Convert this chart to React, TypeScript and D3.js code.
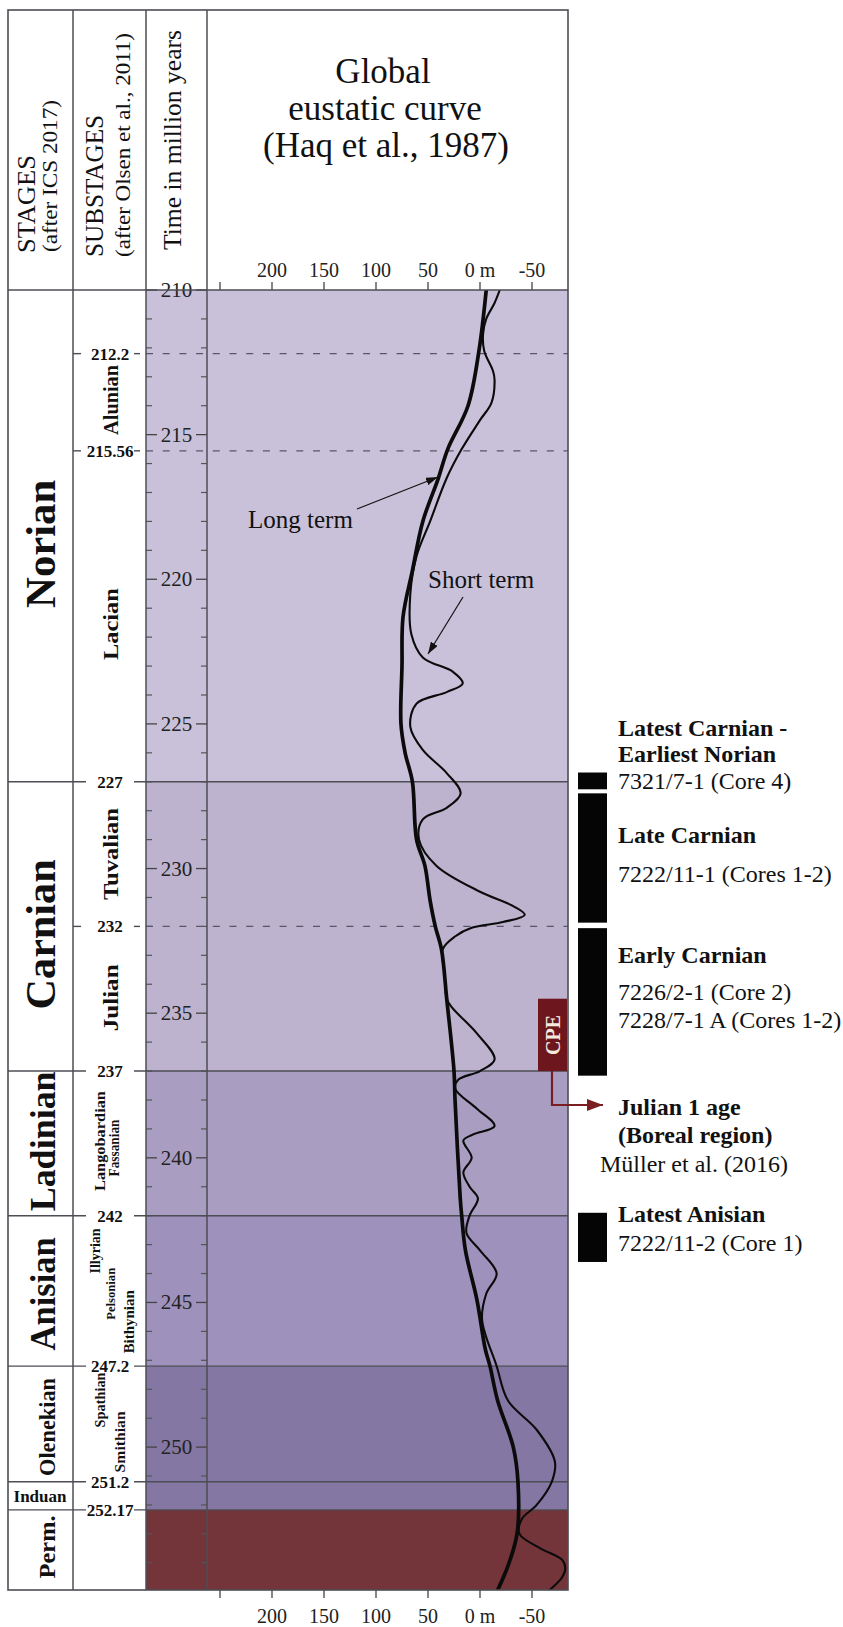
import React from 'react';
import * as d3 from 'd3';

// ---------- data ----------
const stageNames = ['Norian', 'Carnian', 'Ladinian', 'Anisian', 'Olenekian', 'Induan', 'Perm.'];
const stageTops = [210, 227, 237, 242, 247.2, 251.2, 252.17];
const stageBases = [227, 237, 242, 247.2, 251.2, 252.17, 254.94];

const boundaryAges = [212.2, 215.56, 227, 232, 237, 242, 247.2, 251.2, 252.17];
const boundaryLabels = ['212.2', '215.56', '227', '232', '237', '242', '247.2', '251.2', '252.17'];
const boundaryIsStage = [false, false, true, false, true, true, true, true, true];

const substageNames = ['Alunian', 'Lacian', 'Tuvalian', 'Julian', 'Langobardian', 'Fassanian', 'Illyrian', 'Pelsonian', 'Bithynian', 'Spathian', 'Smithian'];
const substageAges = [213.8, 221.55, 229.5, 234.47, 239.42, 239.66, 243.22, 244.7, 245.67, 248.37, 249.82];

// Haq et al. (1987) long-term curve: age (Ma) and sea level (m)
const longTermAge = [210, 212.1, 214, 215.5, 216.5, 218, 219.7, 221.3, 223, 225, 226, 227, 229, 229.9, 231.1, 232, 232.8, 234.5, 237, 238, 241.4, 242, 243.2, 244.9, 246.6, 247.2, 248.4, 250, 251.2, 253, 254.1, 254.94];
const longTermLevel = [-6, 1, 11.5, 31, 40, 55, 65, 74, 75, 76, 72, 65, 61, 53, 48, 43, 37, 32, 25, 24, 19, 17.6, 14, 3, -5, -9.6, -17, -32, -36.5, -35.6, -27, -17];

// Short-term curve
const shortTermAge = [210, 210.45, 211, 211.5, 212.1, 212.8, 213.1, 213.9, 214.5, 215.5, 216.5, 218, 219.2, 220.5, 221.9, 222.7, 223.2, 223.6, 223.9, 224.3, 225.1, 225.9, 226.7, 227.4, 227.9, 228.3, 229.0, 229.9, 230.8, 231.3, 231.6, 231.85, 232.05, 232.35, 232.8, 233.6, 234.5, 234.8, 235.7, 236.6, 237.0, 237.3, 237.6, 238.3, 238.9, 239.2, 239.4, 240.0, 240.5, 241.0, 241.4, 242.0, 242.6, 243.2, 244.0, 244.7, 245.6, 247.2, 248.4, 249.4, 250.5, 251.2, 252.0, 252.5, 253.0, 253.5, 253.9, 254.2, 254.5, 254.94];
const shortTermLevel = [-19, -14, -6, -3, -4, -12.5, -14, -11, 0, 17.6, 32, 48, 61, 67, 66, 55, 26, 16.6, 32, 61, 67, 55, 32, 18.6, 32, 55, 58.6, 42, 0, -32, -43, -22, 8, 24, 36, 34, 32, 27, 3, -14, 0, 21, 24, 3, -14, 7, 16, 8, 16, 10, 2, 10, 13, 0, -16, -6, -2, -16, -27, -54.5, -72, -69, -54.5, -40, -38, -58, -79, -82, -79, -67];

const levelTicks = [250, 200, 150, 100, 50, 0, -50];
const levelTickLabels = ['', '200', '150', '100', '50', '0 m', '-50'];

// cored intervals (Ma)
const coreTop = [226.68, 227.4, 232.06, 241.9];
const coreBase = [227.26, 231.87, 237.16, 243.6];

const cpeTop = 234.5;
const cpeBase = 237;

const noteLines = ['Latest Carnian -', 'Earliest Norian', '7321/7-1 (Core 4)', 'Late Carnian', '7222/11-1 (Cores 1-2)', 'Early Carnian', '7226/2-1 (Core 2)', '7228/7-1 A (Cores 1-2)', 'Julian 1 age', '(Boreal region)', 'Müller et al. (2016)', 'Latest Anisian', '7222/11-2 (Core 1)'];

// ---------- styling / layout ----------
const SERIF = '"Liberation Serif", "Times New Roman", Times, serif';
const W = 843;
const H = 1627;
const LEFT = 8;
const TOP = 10;
const COL1 = 73;
const COL2 = 146;
const COL3 = 207;
const RIGHT = 568;
const PLOT_TOP = 290;
const PLOT_BOTTOM = 1590;

const bandColors = ['#c9c1d9', '#bdb3cf', '#a99ec2', '#9e91bb', '#8577a4', '#8577a4', '#74353a'];
const stageFont: Record<string, { size: number; len?: number; dy: number; horizontal?: boolean }> = {
  Norian: { size: 43, len: 128, dy: 8 },
  Carnian: { size: 43, len: 150, dy: 8 },
  Ladinian: { size: 36, len: 140, dy: -2 },
  Anisian: { size: 36, len: 113, dy: 3 },
  Olenekian: { size: 24, len: 98, dy: 3 },
  Induan: { size: 17, dy: 0, horizontal: true },
  'Perm.': { size: 24, len: 63, dy: -3 },
};
const substageFont: Record<string, { x: number; size: number; len: number }> = {
  Alunian: { x: 118, size: 20, len: 70 },
  Lacian: { x: 118, size: 22, len: 72 },
  Tuvalian: { x: 118, size: 22, len: 92 },
  Julian: { x: 118, size: 22, len: 67 },
  Langobardian: { x: 105, size: 15, len: 100 },
  Fassanian: { x: 119, size: 14, len: 57 },
  Illyrian: { x: 100, size: 14, len: 45 },
  Pelsonian: { x: 115, size: 13, len: 52 },
  Bithynian: { x: 134, size: 14, len: 63 },
  Spathian: { x: 105, size: 14, len: 55 },
  Smithian: { x: 125, size: 15, len: 61 },
};
const noteBold = [true, true, false, true, false, true, false, false, true, true, false, true, false];
const noteY = [736, 762, 789, 843, 882, 963, 1000, 1028, 1115, 1143, 1172, 1222, 1251];
const noteX = [618, 618, 618, 618, 618, 618, 618, 618, 618, 618, 600, 618, 618];

const yScale = d3.scaleLinear().domain([210, 254.94]).range([PLOT_TOP, PLOT_BOTTOM]);
const xScale = d3.scaleLinear().domain([250, -50]).range([220, 532]);

const curve = d3
  .line<[number, number]>()
  .x((d) => xScale(d[1]))
  .y((d) => yScale(d[0]))
  .curve(d3.curveCatmullRom.alpha(0.5));

const longPath = curve(longTermAge.map((a, i) => [a, longTermLevel[i]] as [number, number])) || '';
const shortPath = curve(shortTermAge.map((a, i) => [a, shortTermLevel[i]] as [number, number])) || '';

const FRAME = '#4d4d55';

function RotText(props: { x: number; y: number; size: number; bold?: boolean; len?: number; anchor?: string; fill?: string; children: React.ReactNode }) {
  const { x, y, size, bold, len, anchor = 'middle', fill = '#111', children } = props;
  return (
    <text
      transform={`translate(${x},${y}) rotate(-90)`}
      textAnchor={anchor}
      fontFamily={SERIF}
      fontSize={size}
      fontWeight={bold ? 'bold' : 'normal'}
      fill={fill}
      textLength={len}
      lengthAdjust={len ? 'spacingAndGlyphs' : undefined}
    >
      {children}
    </text>
  );
}

export default function App() {
  const timeTicks = d3.range(210, 255);

  return (
    <div style={{ position: 'absolute', left: 0, top: 0 }}>
      <svg width={W} height={H} style={{ display: 'block', background: '#fff' }}>
        <defs>
          <clipPath id="plotClip">
            <rect x={COL3} y={PLOT_TOP} width={RIGHT - COL3} height={PLOT_BOTTOM - PLOT_TOP} />
          </clipPath>
          <marker id="arrowBlack" viewBox="0 0 12 8" refX={12} refY={4} markerWidth={12} markerHeight={8} markerUnits="userSpaceOnUse" orient="auto">
            <path d="M0,0 L12,4 L0,8 z" fill="#111" />
          </marker>
          <marker id="arrowRed" viewBox="0 0 16 12" refX={16} refY={6} markerWidth={16} markerHeight={12} markerUnits="userSpaceOnUse" orient="auto">
            <path d="M0,0 L16,6 L0,12 z" fill="#7b1e24" />
          </marker>
        </defs>

        {/* stage colour bands in the time column and the curve panel */}
        {stageNames.map((s, i) => (
          <rect
            key={s}
            x={COL2}
            y={yScale(stageTops[i])}
            width={RIGHT - COL2}
            height={yScale(stageBases[i]) - yScale(stageTops[i])}
            fill={bandColors[i]}
          />
        ))}

        {/* header */}
        <RotText x={35} y={253} size={26} anchor="start" len={98}>STAGES</RotText>
        <RotText x={57} y={252} size={21} anchor="start" len={152}>(after ICS 2017)</RotText>
        <RotText x={103} y={257} size={25} anchor="start" len={142}>SUBSTAGES</RotText>
        <RotText x={130} y={257} size={21} anchor="start" len={224}>(after Olsen et al., 2011)</RotText>
        <RotText x={181} y={250} size={25} anchor="start" len={220}>Time in million years</RotText>

        <g fontFamily={SERIF} fontSize={35} textAnchor="middle" fill="#111">
          <text x={383} y={83}>Global</text>
          <text x={385} y={120}>eustatic curve</text>
          <text x={386} y={157}>(Haq et al., 1987)</text>
        </g>

        {/* level axis, top and bottom */}
        {levelTicks.map((v, i) => (
          <g key={v} fontFamily={SERIF} fontSize={20} textAnchor="middle" fill="#222">
            <line x1={xScale(v)} x2={xScale(v)} y1={PLOT_TOP - 8} y2={PLOT_TOP} stroke="#444" strokeWidth={1.3} />
            <line x1={xScale(v)} x2={xScale(v)} y1={PLOT_BOTTOM} y2={PLOT_BOTTOM + 8} stroke="#444" strokeWidth={1.3} />
            <text x={xScale(v)} y={277}>{levelTickLabels[i]}</text>
            <text x={xScale(v)} y={1623}>{levelTickLabels[i]}</text>
          </g>
        ))}

        {/* time ticks */}
        {timeTicks.map((t) => {
          const y = yScale(t);
          const major = t % 5 === 0;
          return major ? (
            <g key={t}>
              <line x1={COL2} x2={157} y1={y} y2={y} stroke="#444" strokeWidth={1.3} />
              <line x1={196} x2={COL3} y1={y} y2={y} stroke="#444" strokeWidth={1.3} />
              <text x={176.5} y={y + 7} textAnchor="middle" fontFamily={SERIF} fontSize={21} fill="#222">
                {t}
              </text>
            </g>
          ) : (
            <g key={t}>
              <line x1={COL2} x2={152} y1={y} y2={y} stroke="#555" strokeWidth={1.2} />
              <line x1={201} x2={COL3} y1={y} y2={y} stroke="#555" strokeWidth={1.2} />
            </g>
          );
        })}

        {/* boundaries */}
        {boundaryAges.map((a, i) => {
          const y = yScale(a);
          return boundaryIsStage[i] ? (
            <g key={a}>
              <line x1={LEFT} x2={86} y1={y} y2={y} stroke={FRAME} strokeWidth={1.4} />
              <line x1={134} x2={RIGHT} y1={y} y2={y} stroke={FRAME} strokeWidth={1.4} />
            </g>
          ) : (
            <g key={a}>
              <line x1={COL1} x2={81} y1={y} y2={y} stroke={FRAME} strokeWidth={1.4} />
              <line x1={134} x2={140} y1={y} y2={y} stroke={FRAME} strokeWidth={1.4} />
              <line x1={COL2} x2={RIGHT} y1={y} y2={y} stroke="#5a5668" strokeWidth={1.4} strokeDasharray="7 9.7" />
            </g>
          );
        })}
        {boundaryAges.map((a, i) => (
          <text key={'l' + a} x={110} y={yScale(a) + 6} textAnchor="middle" fontFamily={SERIF} fontWeight="bold" fontSize={17} fill="#111">
            {boundaryLabels[i]}
          </text>
        ))}

        {/* stage names */}
        {stageNames.map((s, i) => {
          const f = stageFont[s];
          const yc = (yScale(stageTops[i]) + yScale(stageBases[i])) / 2 + f.dy;
          if (f.horizontal) {
            return (
              <text key={s} x={40} y={yc + 6} textAnchor="middle" fontFamily={SERIF} fontWeight="bold" fontSize={f.size} fill="#111">
                {s}
              </text>
            );
          }
          return (
            <RotText key={s} x={55} y={yc} size={f.size} bold len={f.len}>
              {s}
            </RotText>
          );
        })}

        {/* substage names */}
        {substageNames.map((s, i) => {
          const f = substageFont[s];
          return (
            <RotText key={s} x={f.x} y={yScale(substageAges[i])} size={f.size} bold len={f.len}>
              {s}
            </RotText>
          );
        })}

        {/* eustatic curves */}
        <g clipPath="url(#plotClip)" fill="none" stroke="#0b0b0b" strokeLinejoin="round" strokeLinecap="round">
          <path d={shortPath} strokeWidth={2.1} />
          <path d={longPath} strokeWidth={3.7} />
        </g>

        {/* curve annotations */}
        <text x={248} y={528} fontFamily={SERIF} fontSize={25} fill="#111">Long term</text>
        <line x1={357} y1={509} x2={438} y2={477} stroke="#111" strokeWidth={1.2} markerEnd="url(#arrowBlack)" />
        <text x={428} y={588} fontFamily={SERIF} fontSize={25} fill="#111">Short term</text>
        <line x1={463} y1={597} x2={428} y2={654} stroke="#111" strokeWidth={1.2} markerEnd="url(#arrowBlack)" />

        {/* frame */}
        <rect x={LEFT} y={TOP} width={RIGHT - LEFT} height={PLOT_BOTTOM - TOP} fill="none" stroke={FRAME} strokeWidth={1.6} />
        <line x1={LEFT} x2={RIGHT} y1={PLOT_TOP} y2={PLOT_TOP} stroke={FRAME} strokeWidth={1.6} />
        {[COL1, COL2, COL3].map((x) => (
          <line key={x} x1={x} x2={x} y1={TOP} y2={PLOT_BOTTOM} stroke={FRAME} strokeWidth={1.5} />
        ))}

        {/* CPE marker */}
        <rect x={538} y={yScale(cpeTop)} width={29} height={yScale(cpeBase) - yScale(cpeTop)} fill="#6e161d" />
        <RotText x={560} y={(yScale(cpeTop) + yScale(cpeBase)) / 2} size={20} bold fill="#f3e9dc">
          CPE
        </RotText>
        <path
          d={`M552,${yScale(cpeBase)} L552,1105 L603,1105`}
          fill="none"
          stroke="#7b1e24"
          strokeWidth={2.2}
          markerEnd="url(#arrowRed)"
        />

        {/* cored intervals */}
        {coreTop.map((t, i) => (
          <rect key={t} x={578} y={yScale(t)} width={29} height={yScale(coreBase[i]) - yScale(t)} fill="#050505" />
        ))}

        {/* core notes */}
        {noteLines.map((s, i) => (
          <text
            key={s}
            x={noteX[i]}
            y={noteY[i]}
            fontFamily={SERIF}
            fontSize={24}
            fontWeight={noteBold[i] ? 'bold' : 'normal'}
            fill="#111"
          >
            {s}
          </text>
        ))}
      </svg>
    </div>
  );
}
